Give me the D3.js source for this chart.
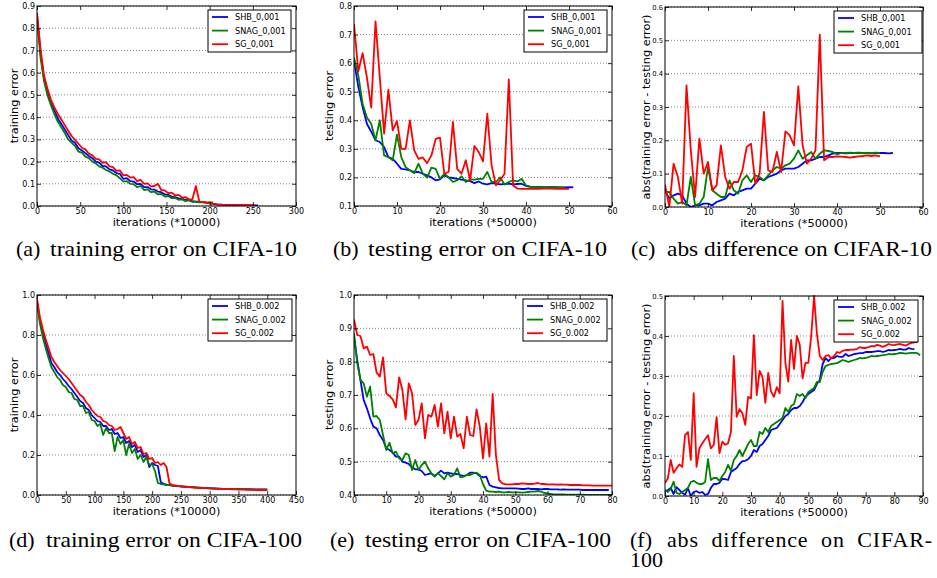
<!DOCTYPE html>
<meta charset='utf-8'>
<style>
body { margin: 0; background: #fff; }
svg { display: block; }
.tick text { font-family: 'DejaVu Sans'; font-size: 8px; fill: #000; }
.small .tick text { font-size: 6.8px; }
.tick line { stroke: #000; stroke-width: 0.8; }
.grid line { stroke: #333; stroke-width: 0.6; stroke-dasharray: 1,2; }
.lab { font-family: 'DejaVu Sans'; font-size: 11.3px; }
.leg text { font-family: 'DejaVu Sans'; font-size: 8.2px; }
.cap { font-family: 'Liberation Serif', 'Times New Roman', Times, serif; font-size: 22px; }
.series { fill: none; stroke-width: 1.8; stroke-linejoin: round; }
</style>
<svg width='937' height='578'></svg>

<script src='https://cdn.jsdelivr.net/npm/d3@7'></script>

<script>
  // ---- data ----
  var colors = ['#0000ff', '#008000', '#ff0000'];
  var namesTop = ['SHB_0,001', 'SNAG_0,001', 'SG_0,001'];
  var namesBottom = ['SHB_0.002', 'SNAG_0.002', 'SG_0.002'];

  // (a) training error CIFAR-10, every 4 (*10000) iterations
  var aIter = d3.range(0, 257, 4);
  var aSHB = [0.86,0.69,0.575,0.515,0.465,0.43,0.395,0.37,0.345,0.32,0.295,0.285,0.26,0.25,0.238,0.225,0.215,0.2,0.195,0.18,
    0.178,0.165,0.16,0.148,0.145,0.122,0.125,0.112,0.11,0.098,0.1,0.085,0.085,0.075,0.074,0.065,0.062,0.052,0.05,0.042,
    0.04,0.034,0.033,0.027,0.026,0.022,0.02,0.018,0.017,0.015,0.013,0.01,0.007,0.006,0.005,0.005,0.004,0.004,0.004,0.004,
    0.004,0.003,0.003,0.003,0.003];
  var aSNAG = [0.85,0.67,0.565,0.5,0.455,0.415,0.38,0.355,0.33,0.3,0.285,0.27,0.245,0.24,0.222,0.215,0.2,0.192,0.178,0.172,
    0.162,0.155,0.145,0.138,0.125,0.11,0.112,0.1,0.098,0.085,0.09,0.072,0.075,0.062,0.065,0.052,0.055,0.042,0.045,0.035,
    0.036,0.028,0.03,0.022,0.025,0.018,0.02,0.016,0.018,0.015,0.017,0.015];
  var aSG = [0.87,0.71,0.59,0.53,0.48,0.445,0.415,0.39,0.365,0.34,0.315,0.298,0.28,0.262,0.255,0.236,0.228,0.212,0.21,0.194,
    0.197,0.178,0.175,0.158,0.16,0.138,0.14,0.128,0.13,0.112,0.118,0.1,0.102,0.088,0.09,0.1,0.072,0.07,0.058,0.06,
    0.048,0.05,0.038,0.04,0.03,0.03,0.09,0.02,0.018,0.015,0.012,0.009,0.007,0.006,0.005,0.005,0.005,0.005,0.004,0.005,
    0.004,0.004,0.004,0.004];
  var aXTicks = [0, 50, 100, 150, 200, 250, 300];
  var aYTicks = [0, 0.1, 0.2, 0.3, 0.4, 0.5, 0.6, 0.7, 0.8, 0.9];

  // (b) testing error CIFAR-10, every 1 (*50000) iterations
  var bSHB = [0.61,0.517,0.446,0.388,0.36,0.33,0.324,0.306,0.271,0.265,0.248,0.23,0.228,0.225,0.219,0.219,0.213,0.207,0.2,0.19,
    0.193,0.207,0.2,0.198,0.195,0.192,0.19,0.187,0.18,0.186,0.178,0.176,0.18,0.178,0.176,0.177,0.178,0.176,0.177,0.178,
    0.17,0.168,0.167,0.167,0.166,0.166,0.167,0.166,0.165,0.165,0.166,0.165];
  var bSNAG = [0.62,0.557,0.458,0.41,0.388,0.33,0.40,0.277,0.271,0.26,0.35,0.271,0.236,0.225,0.215,0.248,0.213,0.199,0.234,0.23,
    0.195,0.213,0.2,0.184,0.19,0.204,0.184,0.193,0.192,0.195,0.195,0.219,0.184,0.184,0.2,0.175,0.184,0.19,0.186,0.195,
    0.172,0.167,0.167,0.166,0.166,0.166,0.166,0.165,0.165,0.165];
  var bSG = [0.738,0.571,0.635,0.55,0.444,0.746,0.55,0.353,0.507,0.365,0.397,0.30,0.30,0.40,0.295,0.265,0.27,0.25,0.277,0.335,
    0.339,0.213,0.219,0.394,0.23,0.213,0.26,0.19,0.31,0.289,0.256,0.423,0.242,0.172,0.19,0.213,0.543,0.172,0.161,0.16,
    0.16,0.161,0.16,0.16,0.161,0.162,0.161,0.16,0.161,0.16,0.16];
  var bXTicks = [0, 10, 20, 30, 40, 50, 60];
  var bYTicks = [0.1, 0.2, 0.3, 0.4, 0.5, 0.6, 0.7, 0.8];

  // (c) abs difference CIFAR-10
  var cSHB = [0.05,0.025,0.035,0.04,0.035,0.01,0.0,0.005,0.005,0.01,0.01,0.005,0.015,0.02,0.025,0.04,0.035,0.045,0.05,0.055,
    0.055,0.07,0.085,0.08,0.09,0.095,0.10,0.11,0.115,0.115,0.115,0.12,0.13,0.14,0.14,0.145,0.15,0.15,0.155,0.16,
    0.162,0.162,0.161,0.162,0.162,0.163,0.162,0.162,0.161,0.162,0.162,0.162,0.161,0.162];
  var cSNAG = [0.045,0.045,0.025,0.01,0.015,0.005,0.09,0.005,0.01,0.03,0.12,0.05,0.04,0.03,0.03,0.08,0.05,0.04,0.08,0.095,
    0.075,0.095,0.09,0.08,0.095,0.11,0.12,0.115,0.125,0.13,0.145,0.17,0.145,0.155,0.165,0.145,0.16,0.17,0.168,0.165,
    0.158,0.162,0.162,0.163,0.162,0.162,0.162,0.162,0.162,0.163,0.162];
  var cSG = [0.067,0.0,0.13,0.09,0.01,0.365,0.17,0.03,0.205,0.10,0.135,0.05,0.065,0.185,0.09,0.055,0.075,0.075,0.11,0.18,
    0.19,0.07,0.10,0.285,0.11,0.105,0.165,0.105,0.227,0.215,0.185,0.362,0.185,0.13,0.145,0.17,0.517,0.14,0.15,0.15,
    0.152,0.151,0.15,0.148,0.15,0.152,0.153,0.155,0.153,0.155,0.152];
  var cXTicks = [0, 10, 20, 30, 40, 50, 60];
  var cYTicks = [0, 0.1, 0.2, 0.3, 0.4, 0.5, 0.6];

  // (d) training error CIFAR-100, every 5 (*10000) iterations
  var dIter = d3.range(0, 401, 5);
  var dSHB = [0.97,0.87,0.81,0.76,0.71,0.66,0.64,0.615,0.6,0.58,0.565,0.545,0.53,0.51,0.49,0.47,0.46,0.435,0.425,0.40,
    0.385,0.37,0.365,0.345,0.345,0.325,0.33,0.305,0.31,0.285,0.29,0.26,0.27,0.24,0.25,0.215,0.225,0.19,0.2,0.14,
    0.16,0.15,0.145,0.065,0.055,0.052,0.05,0.047,0.045,0.044,0.042,0.041,0.04,0.039,0.038,0.037,0.036,0.035,0.035,0.034,
    0.033,0.033,0.032,0.032,0.031,0.031,0.031,0.03,0.03,0.03,0.03,0.029,0.029,0.029,0.029,0.028,0.028,0.028,0.028,0.028,0.028];
  var dSNAG = [0.96,0.86,0.79,0.735,0.685,0.64,0.615,0.59,0.575,0.55,0.54,0.515,0.51,0.48,0.475,0.445,0.445,0.41,0.415,0.375,
    0.37,0.345,0.355,0.3,0.335,0.31,0.31,0.22,0.29,0.255,0.275,0.2,0.255,0.21,0.23,0.18,0.2,0.165,0.19,0.15,
    0.155,0.12,0.06,0.055,0.053,0.05,0.049,0.047,0.046,0.045,0.044,0.043,0.042,0.041,0.04,0.039,0.038,0.037,0.036,0.035,
    0.034,0.033,0.033,0.032,0.032,0.031,0.031,0.03,0.03,0.03,0.029,0.029,0.029,0.028,0.028,0.028,0.027,0.027,0.027,0.027,0.027];
  var dSG = [0.98,0.89,0.83,0.78,0.735,0.69,0.665,0.645,0.625,0.61,0.595,0.58,0.56,0.54,0.52,0.5,0.49,0.465,0.45,0.425,
    0.41,0.395,0.39,0.37,0.365,0.35,0.345,0.325,0.33,0.34,0.31,0.28,0.29,0.255,0.265,0.235,0.24,0.205,0.21,0.18,
    0.185,0.16,0.165,0.15,0.16,0.14,0.06,0.05,0.048,0.045,0.044,0.042,0.04,0.04,0.038,0.037,0.036,0.035,0.035,0.034,
    0.033,0.032,0.032,0.031,0.03,0.03,0.029,0.029,0.028,0.028,0.027,0.027,0.027,0.026,0.026,0.026,0.025,0.025,0.025,0.024,0.024];
  var dXTicks = [0, 50, 100, 150, 200, 250, 300, 350, 400, 450];
  var dYTicks = [0, 0.2, 0.4, 0.6, 0.8, 1.0];

  // (e) testing error CIFAR-100
  var eSHB = [0.875,0.805,0.745,0.685,0.66,0.63,0.605,0.60,0.58,0.565,0.54,0.535,0.527,0.515,0.515,0.50,0.497,0.493,0.483,0.477,
    0.477,0.472,0.46,0.463,0.465,0.457,0.465,0.473,0.465,0.467,0.465,0.463,0.463,0.46,0.457,0.46,0.467,0.467,0.465,0.457,
    0.453,0.455,0.43,0.425,0.423,0.421,0.42,0.42,0.42,0.42,0.42,0.419,0.418,0.418,0.42,0.418,0.418,0.418,0.417,0.418,
    0.418,0.417,0.417,0.417,0.416,0.417,0.416,0.416,0.416,0.416,0.416,0.415,0.415,0.415,0.415,0.415,0.415,0.415,0.415,0.415];
  var eSNAG = [0.885,0.795,0.745,0.735,0.695,0.725,0.635,0.637,0.625,0.58,0.535,0.557,0.525,0.53,0.51,0.505,0.525,0.52,0.475,0.505,
    0.475,0.49,0.50,0.48,0.465,0.455,0.465,0.457,0.447,0.465,0.455,0.46,0.48,0.453,0.455,0.46,0.46,0.465,0.467,0.46,
    0.433,0.413,0.41,0.41,0.409,0.41,0.408,0.408,0.409,0.408,0.408,0.408,0.407,0.408,0.409,0.41,0.41,0.412,0.41,0.406,
    0.405,0.403,0.402,0.402,0.402,0.402,0.401,0.401,0.401,0.401,0.401,0.401,0.40,0.40,0.40,0.40,0.40,0.40,0.40,0.40,0.40];
  var eSG = [0.927,0.88,0.877,0.84,0.845,0.82,0.823,0.767,0.755,0.813,0.705,0.697,0.687,0.663,0.753,0.715,0.627,0.735,0.705,0.61,
    0.625,0.675,0.57,0.64,0.635,0.67,0.605,0.675,0.585,0.65,0.57,0.635,0.575,0.583,0.54,0.635,0.58,0.577,0.657,0.605,
    0.51,0.615,0.515,0.703,0.52,0.445,0.435,0.432,0.432,0.432,0.433,0.433,0.435,0.434,0.433,0.433,0.434,0.436,0.433,0.433,
    0.432,0.432,0.432,0.431,0.432,0.431,0.431,0.43,0.43,0.43,0.43,0.429,0.429,0.429,0.428,0.428,0.428,0.428,0.428,0.428,0.428];
  var eXTicks = [0, 10, 20, 30, 40, 50, 60, 70, 80];
  var eYTicks = [0.4, 0.5, 0.6, 0.7, 0.8, 0.9, 1.0];

  // (f) abs difference CIFAR-100
  var fSHB = [0.012,0.015,0.02,0.005,0.022,0.015,0.008,0.003,0.02,0.0,0.01,0.012,0.008,0.01,0.003,0.005,0.02,0.03,0.03,0.033,
    0.043,0.042,0.04,0.06,0.065,0.07,0.08,0.087,0.088,0.092,0.1,0.115,0.11,0.125,0.13,0.14,0.15,0.165,0.168,0.17,
    0.18,0.19,0.2,0.205,0.215,0.22,0.22,0.225,0.235,0.248,0.255,0.26,0.265,0.28,0.29,0.33,0.345,0.337,0.345,0.345,
    0.35,0.348,0.348,0.355,0.35,0.352,0.355,0.356,0.357,0.357,0.36,0.36,0.36,0.361,0.362,0.362,0.36,0.362,0.365,0.364,
    0.365,0.366,0.368,0.366,0.366,0.37,0.368,0.367];
  var fSNAG = [0.015,0.01,0.018,0.036,0.008,0.005,0.01,0.015,0.02,0.035,0.038,0.033,0.03,0.03,0.035,0.092,0.04,0.045,0.045,0.038,
    0.05,0.06,0.078,0.063,0.09,0.1,0.115,0.1,0.115,0.13,0.14,0.125,0.125,0.16,0.155,0.17,0.16,0.175,0.18,0.185,
    0.19,0.195,0.22,0.21,0.225,0.23,0.255,0.25,0.255,0.245,0.26,0.265,0.27,0.285,0.285,0.31,0.325,0.328,0.33,0.331,
    0.332,0.336,0.34,0.338,0.335,0.338,0.34,0.342,0.345,0.344,0.345,0.347,0.35,0.349,0.35,0.351,0.352,0.353,0.355,0.354,
    0.355,0.356,0.358,0.357,0.356,0.357,0.358,0.358,0.357,0.352];
  var fSG = [0.033,0.044,0.09,0.058,0.069,0.079,0.073,0.152,0.16,0.09,0.257,0.073,0.119,0.132,0.142,0.152,0.119,0.128,0.197,0.107,
    0.136,0.128,0.132,0.16,0.35,0.198,0.217,0.207,0.178,0.248,0.244,0.402,0.252,0.313,0.298,0.233,0.308,0.261,0.248,0.272,
    0.257,0.488,0.332,0.286,0.39,0.317,0.40,0.378,0.294,0.333,0.333,0.40,0.50,0.405,0.35,0.34,0.35,0.352,0.344,0.35,
    0.36,0.358,0.363,0.365,0.365,0.366,0.366,0.368,0.372,0.37,0.37,0.372,0.375,0.374,0.378,0.376,0.373,0.376,0.38,0.378,
    0.377,0.379,0.38,0.378,0.376,0.38,0.383,0.384,0.385];
  var fXTicks = [0, 10, 20, 30, 40, 50, 60, 70, 80, 90];
  var fYTicks = [0, 0.1, 0.2, 0.3, 0.4, 0.5];

  var captions = [
    {label: '(a)', text: 'training error on CIFA-10', lx: 16, x0: 50, x1: 297, y: 256},
    {label: '(b)', text: 'testing error on CIFA-10', lx: 333, x0: 368, x1: 607, y: 256},
    {label: '(c)', text: 'abs difference on CIFAR-10', lx: 631, x0: 667, x1: 932, y: 256},
    {label: '(d)', text: 'training error on CIFA-100', lx: 9, x0: 46, x1: 302, y: 547},
    {label: '(e)', text: 'testing error on CIFA-100', lx: 330, x0: 365, x1: 611, y: 547},
    {label: '(f)', text: 'abs  difference  on  CIFAR-', lx: 630, x0: 667, x1: 932, y: 547, more: '100'}
  ];

  // ---- layout ----
  var idx = function(a) { return a.map(function(d, i) { return i; }); };

  var panels = [
    {box: [37, 6, 296, 206], xd: [0, 300], xt: aXTicks, yd: [0, 0.9], yt: aYTicks,
      series: [[aIter, aSHB], [aIter, aSNAG], [aIter, aSG]], names: namesTop,
      ylab: 'training error', ylx: 14, xlab: 'iterations (*10000)', legW: 83, legIn: 5},
    {box: [354, 6, 612, 206], xd: [0, 60], xt: bXTicks, yd: [0.1, 0.8], yt: bYTicks,
      series: [[idx(bSHB), bSHB], [idx(bSNAG), bSNAG], [idx(bSG), bSG]], names: namesTop,
      ylab: 'testing error', ylx: 329, xlab: 'iterations (*50000)', legW: 83, legIn: 5},
    {box: [665, 7, 923, 207], xd: [0, 60], xt: cXTicks, yd: [0, 0.6], yt: cYTicks, small: true,
      series: [[idx(cSHB), cSHB], [idx(cSNAG), cSNAG], [idx(cSG), cSG]], names: namesTop,
      ylab: 'abs(training error - testing error)', ylx: 646, xlab: 'iterations (*50000)', legW: 88, legIn: 1},
    {box: [37, 295, 296, 495], xd: [0, 450], xt: dXTicks, yd: [0, 1.0], yt: dYTicks,
      series: [[dIter, dSHB], [dIter, dSNAG], [dIter, dSG]], names: namesBottom,
      ylab: 'training error', ylx: 14, xlab: 'iterations (*10000)', legW: 84, legIn: 4},
    {box: [354, 295, 612, 495], xd: [0, 80], xt: eXTicks, yd: [0.4, 1.0], yt: eYTicks,
      series: [[idx(eSHB), eSHB], [idx(eSNAG), eSNAG], [idx(eSG), eSG]], names: namesBottom,
      ylab: 'testing error', ylx: 329, xlab: 'iterations (*50000)', legW: 84, legIn: 5},
    {box: [665, 296, 923, 496], xd: [0, 90], xt: fXTicks, yd: [0, 0.5], yt: fYTicks, small: true,
      series: [[idx(fSHB), fSHB], [idx(fSNAG), fSNAG], [idx(fSG), fSG]], names: namesBottom,
      ylab: 'abs(training error - testing error)', ylx: 646, xlab: 'iterations (*50000)', legW: 84, legIn: 5}
  ];

  var svg = d3.select('svg');

  panels.forEach(function(p, pi) {
    var x0 = p.box[0], y0 = p.box[1], x1 = p.box[2], y1 = p.box[3];
    var w = x1 - x0, h = y1 - y0;
    var x = d3.scaleLinear().domain(p.xd).range([0, w]);
    var y = d3.scaleLinear().domain(p.yd).range([h, 0]);

    var g = svg.append('g').attr('transform', 'translate(' + x0 + ',' + y0 + ')');

    g.append('clipPath').attr('id', 'clip' + pi)
      .append('rect').attr('x', 0).attr('y', -1).attr('width', w).attr('height', h + 1);

    // dotted horizontal grid
    g.append('g').attr('class', 'grid')
      .selectAll('line').data(p.yt).enter().append('line')
        .attr('x1', 0).attr('x2', w)
        .attr('y1', function(d) { return y(d); })
        .attr('y2', function(d) { return y(d); });

    // series
    var line = d3.line();
    g.append('g').attr('clip-path', 'url(#clip' + pi + ')')
      .selectAll('path').data(p.series).enter().append('path')
        .attr('class', 'series')
        .attr('stroke', function(d, i) { return colors[i]; })
        .attr('d', function(s) {
          return line.x(function(v, i) { return x(s[0][i]); }).y(function(v) { return y(v); })(s[1]);
        });

    // axes, ticks pointing inward on all sides
    var bottom = g.append('g').attr('transform', 'translate(0,' + h + ')')
      .call(d3.axisBottom(x).tickValues(p.xt).tickFormat(d3.format('d')).tickSizeInner(-4).tickSizeOuter(0).tickPadding(2));
    var left = g.append('g').attr('class', p.small ? 'small' : null)
      .call(d3.axisLeft(y).tickValues(p.yt).tickFormat(d3.format('.1f')).tickSizeInner(-4).tickSizeOuter(0).tickPadding(2));
    var top = g.append('g')
      .call(d3.axisTop(x).tickValues(p.xt).tickFormat('').tickSizeInner(-4).tickSizeOuter(0));
    var right = g.append('g').attr('transform', 'translate(' + w + ',0)')
      .call(d3.axisRight(y).tickValues(p.yt).tickFormat('').tickSizeInner(-4).tickSizeOuter(0));
    [bottom, left, top, right].forEach(function(a) { a.select('.domain').remove(); });

    g.append('rect').attr('width', w).attr('height', h)
      .attr('fill', 'none').attr('stroke', '#000').attr('stroke-width', 1);

    // axis labels
    svg.append('text').attr('class', 'lab')
      .attr('text-anchor', 'middle')
      .attr('x', x0 + w / 2).attr('y', y1 + 20)
      .text(p.xlab);
    svg.append('text').attr('class', 'lab')
      .attr('text-anchor', 'middle')
      .attr('transform', 'translate(' + (p.ylx + 4) + ',' + (y0 + h / 2) + ') rotate(-90)')
      .text(p.ylab);

    // legend
    var lg = g.append('g').attr('class', 'leg')
      .attr('transform', 'translate(' + (w - p.legIn - p.legW) + ',4)');
    lg.append('rect').attr('width', p.legW).attr('height', 42)
      .attr('fill', '#fff').attr('stroke', '#000').attr('stroke-width', 1);
    var row = lg.selectAll('g.row').data(p.names).enter().append('g')
      .attr('class', 'row')
      .attr('transform', function(d, i) { return 'translate(0,' + (7 + i * 13.6) + ')'; });
    row.append('line').attr('x1', 4).attr('x2', 20)
      .attr('stroke', function(d, i) { return colors[i]; }).attr('stroke-width', 1.8);
    row.append('text').attr('x', 27).attr('y', 3).text(function(d) { return d; });
  });

  // captions
  captions.forEach(function(c) {
    svg.append('text').attr('class', 'cap').attr('x', c.lx).attr('y', c.y).text(c.label);
    svg.append('text').attr('class', 'cap').attr('x', c.x0).attr('y', c.y)
      .attr('textLength', c.x1 - c.x0)
      .attr('lengthAdjust', c.more ? 'spacing' : 'spacingAndGlyphs')
      .attr('xml:space', 'preserve')
      .text(c.text);
    if (c.more) {
      svg.append('text').attr('class', 'cap').attr('x', c.lx).attr('y', c.y + 20).text(c.more);
    }
  });
</script>
